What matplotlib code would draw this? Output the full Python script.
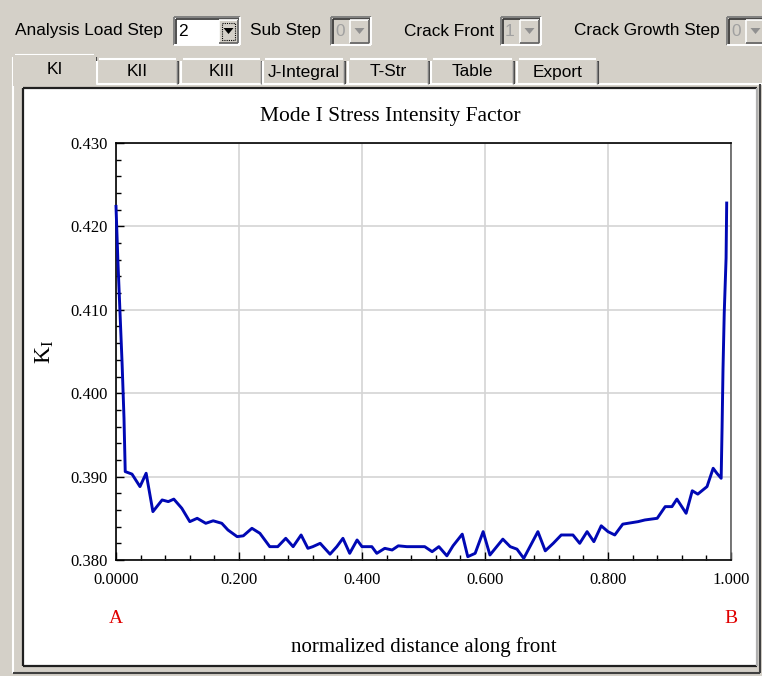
import matplotlib
matplotlib.use("Agg")
import matplotlib.pyplot as plt
from matplotlib.patches import Rectangle, Polygon
from matplotlib.ticker import MultipleLocator

# K_I along the crack front (normalized position, value)
position = [0.000, 0.003, 0.0065, 0.010, 0.013, 0.015, 0.026, 0.039, 0.049, 0.060,
            0.075, 0.085, 0.094, 0.107, 0.120, 0.132, 0.146, 0.158, 0.172, 0.182,
            0.197, 0.207, 0.221, 0.234, 0.250, 0.263, 0.276, 0.288, 0.301, 0.312,
            0.320, 0.332, 0.348, 0.359, 0.369, 0.380, 0.392, 0.400, 0.416, 0.424,
            0.437, 0.449, 0.459, 0.473, 0.502, 0.514, 0.525, 0.538, 0.548, 0.563,
            0.572, 0.584, 0.597, 0.608, 0.629, 0.641, 0.652, 0.663, 0.686, 0.698,
            0.711, 0.724, 0.743, 0.754, 0.766, 0.777, 0.789, 0.800, 0.811, 0.824,
            0.849, 0.860, 0.880, 0.893, 0.904, 0.912, 0.927, 0.937, 0.946, 0.961,
            0.971, 0.977, 0.984, 0.9855, 0.987, 0.989, 0.992, 0.993]
k_one = [0.4224, 0.4160, 0.4097, 0.4034, 0.3970, 0.3906, 0.3903, 0.3888, 0.3904, 0.3858,
         0.3872, 0.3870, 0.3873, 0.3862, 0.3846, 0.3850, 0.3844, 0.3847, 0.3844, 0.3836,
         0.3828, 0.3829, 0.3838, 0.3832, 0.3816, 0.3816, 0.3826, 0.3816, 0.3830, 0.3814,
         0.3816, 0.3820, 0.3807, 0.3816, 0.3826, 0.3808, 0.3824, 0.3816, 0.3816, 0.3808,
         0.3814, 0.3812, 0.3817, 0.3816, 0.3816, 0.3810, 0.3816, 0.3805, 0.3817, 0.3831,
         0.3804, 0.3808, 0.3834, 0.3806, 0.3825, 0.3816, 0.3813, 0.3802, 0.3834, 0.3811,
         0.3820, 0.3830, 0.3830, 0.3820, 0.3834, 0.3822, 0.3841, 0.3834, 0.3830, 0.3843,
         0.3846, 0.3848, 0.3850, 0.3864, 0.3864, 0.3873, 0.3856, 0.3883, 0.3879, 0.3888,
         0.3910, 0.3904, 0.3898, 0.3959, 0.4029, 0.4096, 0.4162, 0.4228]

x_ticks = [0.0, 0.2, 0.4, 0.6, 0.8, 1.0]
x_tick_labels = ["0.0000", "0.200", "0.400", "0.600", "0.800", "1.000"]
y_ticks = [0.380, 0.390, 0.400, 0.410, 0.420, 0.430]
y_tick_labels = ["0.380", "0.390", "0.400", "0.410", "0.420", "0.430"]

combo_labels = ["Analysis Load Step", "Sub Step", "Crack Front", "Crack Growth Step"]
combo_values = ["2", "0", "1", "0"]
tab_names = ["KI", "KII", "KIII", "J-Integral", "T-Str", "Table", "Export"]

W, H = 762, 676
FACE = "#d4d0c8"
GUI_FONT = "Liberation Sans"
SERIF = "Liberation Serif"

fig = plt.figure(figsize=(W / 100, H / 100), dpi=100, facecolor=FACE)

# window chrome drawn in pixel coordinates on a background axes
bg = fig.add_axes([0, 0, 1, 1])
bg.set_xlim(0, W)
bg.set_ylim(H, 0)
bg.axis("off")


def box(x0, y0, x1, y1, **kw):
    bg.add_patch(Rectangle((x0, y0), x1 - x0, y1 - y0, **kw))


def hline(x0, x1, y, c, lw=1.0):
    bg.plot([x0, x1], [y, y], color=c, lw=lw, solid_capstyle="butt")


def vline(x, y0, y1, c, lw=1.0):
    bg.plot([x, x], [y0, y1], color=c, lw=lw, solid_capstyle="butt")


def combo(x0, x1, value, enabled):
    y0, y1 = 17, 45
    box(x0, y0, x1, y1, facecolor="white" if enabled else FACE, edgecolor="none")
    hline(x0, x1, y0, "#808080", 1.4)
    vline(x0, y0, y1, "#808080", 1.4)
    hline(x0 + 1.5, x1 - 1, y0 + 1.5, "#303030", 1.2)
    vline(x0 + 1.5, y0 + 1.5, y1 - 1, "#303030", 1.2)
    hline(x0, x1, y1, "white", 1.4)
    vline(x1, y0, y1, "white", 1.4)
    bx0 = x1 - 21
    box(bx0, y0 + 2.5, x1 - 2, y1 - 2, facecolor=FACE, edgecolor="none")
    hline(bx0, x1 - 2, y0 + 3, "white", 1.2)
    vline(bx0, y0 + 3, y1 - 2, "white", 1.2)
    hline(bx0, x1 - 2, y1 - 2.5, "#606060", 1.2)
    vline(x1 - 2.5, y0 + 3, y1 - 2, "#606060", 1.2)
    cx = (bx0 + x1 - 2) / 2
    arrow_c = "black" if enabled else "#909090"
    bg.add_patch(Polygon([[cx - 5, 28], [cx + 5, 28], [cx, 34]], closed=True,
                         facecolor=arrow_c, edgecolor="none"))
    if enabled:
        box(bx0 + 3, y0 + 5.5, x1 - 5, y1 - 5, facecolor="none",
            edgecolor="black", lw=0.8, ls=(0, (1, 1)))
    bg.text(x0 + 4, 31, value, fontsize=12.4, family=GUI_FONT, va="center",
            ha="left", color="black" if enabled else "#a0a0a0")


label_x = [15, 250, 404, 574]
combo_x = [(174, 240), (331, 371), (501, 541), (727, 767)]
for i, name in enumerate(combo_labels):
    bg.text(label_x[i], 31, name, fontsize=12.4, family=GUI_FONT, va="center",
            ha="left", color="black")
    combo(combo_x[i][0], combo_x[i][1], combo_values[i], i == 0)

# tab strip
tab_x = [(13, 95), (97, 178), (181, 262), (263, 345), (348, 429), (431, 514), (517, 598)]
hline(13, W, 84, "white", 1.5)
for i, name in enumerate(tab_names):
    x0, x1 = tab_x[i]
    top = 55 if i == 0 else 59
    if i == 0:
        x1 = x1 + 1
        box(x0, top, x1, 86, facecolor=FACE, edgecolor="none", zorder=3)
    hline(x0 + 2, x1 - 2, top, "white", 1.5)
    vline(x0, top + 2, 84, "white", 1.5)
    vline(x1, top + 2, 84, "#404040", 1.5)
    vline(x1 - 1.5, top + 2, 84, "#808080", 1.0)
    bg.text((x0 + x1) / 2, 70 if i == 0 else 72, name, fontsize=12.4,
            family=GUI_FONT, ha="center", va="center", zorder=4)

# tab page and chart canvas
vline(13, 84, 673, "white", 1.5)
hline(13, 760, 673, "#404040", 1.5)
vline(760, 84, 673, "#404040", 1.5)
box(23, 88, 757, 666, facecolor="white", edgecolor="none")
vline(23, 88, 666, "#202020", 1.6)
hline(23, 757, 88, "#202020", 1.6)
hline(23, 757, 666, "#202020", 1.6)
vline(757, 88, 666, "#b0b0b0", 1.6)

# chart title is centred on the canvas, not on the plot frame
bg.text(390, 116, "Mode I Stress Intensity Factor", family=SERIF, fontsize=15.5,
        ha="center", va="center")

# plot area
ax = fig.add_axes([116 / W, (H - 560) / H, 615 / W, 417 / H])
ax.set_facecolor("white")
ax.plot(position, k_one, color="#0008b4", lw=2.1, zorder=3, clip_on=False)
ax.set_xlim(0, 1)
ax.set_ylim(0.380, 0.430)
ax.set_xticks(x_ticks)
ax.set_xticklabels(x_tick_labels)
ax.set_yticks(y_ticks)
ax.set_yticklabels(y_tick_labels)
ax.xaxis.set_minor_locator(MultipleLocator(0.04))
ax.yaxis.set_minor_locator(MultipleLocator(0.002))
ax.tick_params(which="both", direction="in", top=False, right=False,
               width=1.0, color="black")
ax.tick_params(which="major", length=6, labelsize=12)
ax.tick_params(axis="x", which="major", pad=9)
ax.tick_params(axis="y", which="major", pad=6)
ax.tick_params(which="minor", length=3.5)
for lbl in ax.get_xticklabels() + ax.get_yticklabels():
    lbl.set_family(SERIF)
ax.grid(True, which="major", color="#d4d4d4", lw=1.2)
ax.set_axisbelow(True)
for side, sp in ax.spines.items():
    sp.set_linewidth(1.2)
    sp.set_color("#606060" if side == "right" else "black")

ax.set_xlabel("normalized distance along front", family=SERIF, fontsize=15,
              labelpad=35)
ax.set_ylabel(r"$\mathregular{K_I}$", family=SERIF, fontsize=17, labelpad=10)
ax.text(0.0, -0.14, "A", transform=ax.transAxes, ha="center", va="center",
        family=SERIF, fontsize=14, color="#e00000")
ax.text(1.0, -0.14, "B", transform=ax.transAxes, ha="center", va="center",
        family=SERIF, fontsize=14, color="#e00000")

fig.savefig("out.png", dpi=100, facecolor=FACE)
